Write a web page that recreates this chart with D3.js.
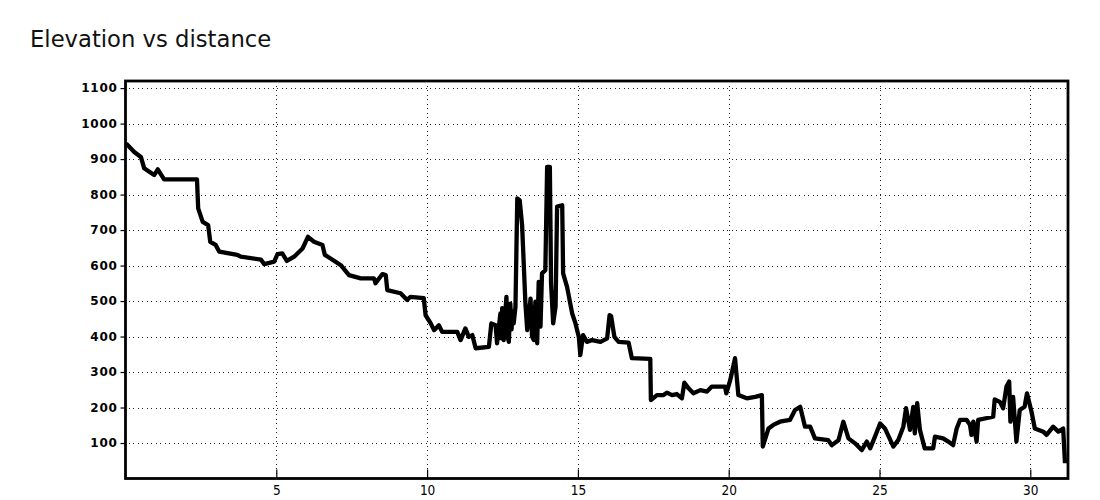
<!DOCTYPE html>
<html>
<head>
<meta charset="utf-8">
<script src="https://cdn.jsdelivr.net/npm/d3@7"></script>
<style>
  html, body { margin: 0; padding: 0; background: #fff; }
  svg { display: block; }
</style>
</head>
<body>
<svg id="chart" width="1100" height="500"></svg>
<script>
const title = "Elevation vs distance";

const distanceKm = [
  0.02, 0.29, 0.51, 0.62, 0.79, 0.95, 1.07, 1.28, 2.37, 2.41, 2.56, 2.74, 2.81, 2.99, 3.11,
  3.71, 3.82, 4.49, 4.60, 4.93, 5.04, 5.20, 5.35, 5.59, 5.87, 6.05, 6.25, 6.53, 6.61, 6.80,
  7.14, 7.41, 7.80, 8.24, 8.29, 8.52, 8.63, 8.68, 9.12, 9.34, 9.45, 9.89, 9.95, 10.12, 10.23,
  10.39, 10.50, 11.00, 11.11, 11.27, 11.38, 11.50, 11.61, 12.05, 12.13, 12.27, 12.32, 12.43,
  12.46, 12.49, 12.54, 12.57, 12.60, 12.63, 12.67, 12.71, 12.76, 12.80, 12.84, 12.87, 12.93,
  12.99, 13.07, 13.15, 13.26, 13.32, 13.43, 13.48, 13.54, 13.59, 13.65, 13.70, 13.76, 13.81,
  13.92, 13.98, 14.07, 14.11, 14.18, 14.26, 14.31, 14.48, 14.51, 14.64, 14.81, 14.92, 15.03,
  15.08, 15.17, 15.30, 15.47, 15.75, 15.97, 16.05, 16.10, 16.21, 16.35, 16.68, 16.79, 17.40,
  17.42, 17.62, 17.84, 17.95, 18.12, 18.28, 18.45, 18.53, 18.67, 18.83, 19.06, 19.28, 19.44,
  19.88, 19.92, 20.05, 20.21, 20.32, 20.60, 20.88, 21.10, 21.13, 21.32, 21.48, 21.70, 22.03,
  22.20, 22.37, 22.53, 22.70, 22.86, 23.30, 23.42, 23.64, 23.80, 23.97, 24.19, 24.41, 24.58,
  24.69, 24.85, 25.02, 25.18, 25.46, 25.62, 25.79, 25.88, 26.01, 26.12, 26.17, 26.25, 26.34,
  26.50, 26.78, 26.84, 27.11, 27.28, 27.44, 27.56, 27.67, 27.89, 28.00, 28.05, 28.11, 28.22,
  28.27, 28.77, 28.82, 28.99, 29.10, 29.21, 29.30, 29.34, 29.43, 29.54, 29.65, 29.81, 29.89,
  30.04, 30.15, 30.43, 30.54, 30.76, 30.93, 31.09, 31.15
];

const elevationM = [
  944, 920, 906, 874, 864, 855, 871, 843, 843, 761, 723, 714, 667, 658, 639,
  630, 625, 617, 604, 611, 632, 634, 613, 625, 648, 681, 667, 658, 630, 620,
  601, 573, 564, 564, 550, 576, 573, 531, 522, 503, 512, 508, 460, 437, 418,
  432, 413, 413, 390, 423, 399, 404, 367, 371, 437, 432, 381, 465,
  395, 480, 390, 470, 475, 512, 400, 385, 493, 420, 470, 437, 484,
  789, 784, 714, 493, 418, 507, 400, 390, 498, 381, 554, 428, 578,
  587, 878, 878, 550, 437, 484, 766, 770, 578, 540, 465, 437, 399,
  348, 404, 385, 390, 385, 395, 460, 458, 399, 385, 383, 339, 337,
  221, 235, 235, 242, 235, 238, 226, 270, 254, 240, 249, 245, 259,
  259, 240, 277, 339, 235, 226, 230, 235, 90, 141, 151, 160, 165,
  193, 202, 146, 146, 113, 108, 94, 108, 160, 113, 99, 80, 104,
  85, 118, 155, 141, 90, 108, 146, 198, 137, 202, 127, 212, 137,
  85, 85, 118, 113, 104, 94, 141, 165, 165, 151, 123, 160, 104,
  165, 174, 223, 216, 198, 259, 273, 160, 230, 104, 193, 202, 240,
  188, 141, 132, 123, 146, 132, 141, 43
];

const xTickValues = [5, 10, 15, 20, 25, 30];
const yTickValues = [100, 200, 300, 400, 500, 600, 700, 800, 900, 1000, 1100];
const xDomain = [0, 31.25];
const yDomain = [0, 1120];

const svg = d3.select("#chart");
const plot = { left: 125.5, right: 1068, top: 81, bottom: 478.5 };

const x = d3.scaleLinear().domain(xDomain).range([plot.left, plot.right]);
const y = d3.scaleLinear().domain(yDomain).range([plot.bottom, plot.top]);

svg.append("text")
  .attr("x", 30).attr("y", 47)
  .attr("font-family", "DejaVu Sans, sans-serif")
  .attr("font-size", 22.7)
  .attr("fill", "#111")
  .text(title);

// grid
const grid = svg.append("g").attr("stroke", "#222").attr("stroke-width", 1)
  .attr("stroke-dasharray", "1,3.5").attr("shape-rendering", "crispEdges");
grid.selectAll("line.h").data(yTickValues).join("line")
  .attr("class", "h")
  .attr("x1", plot.left + 3).attr("x2", plot.right)
  .attr("y1", d => Math.round(y(d)) + 0.5).attr("y2", d => Math.round(y(d)) + 0.5);
grid.selectAll("line.v").data(xTickValues).join("line")
  .attr("class", "v")
  .attr("y1", plot.top).attr("y2", plot.bottom)
  .attr("x1", d => Math.round(x(d)) + 0.5).attr("x2", d => Math.round(x(d)) + 0.5);

// axes
const yAxis = d3.axisLeft(y).tickValues(yTickValues).tickSize(5).tickPadding(3).tickFormat(d3.format("d"));
const yG = svg.append("g").attr("transform", `translate(${plot.left},0)`).call(yAxis);
yG.select(".domain").remove();
yG.selectAll("line").attr("stroke", "#000").attr("stroke-width", 1.2);
yG.selectAll("text")
  .attr("font-family", "DejaVu Sans, sans-serif")
  .attr("font-size", 12)
  .attr("font-weight", "bold")
  .attr("letter-spacing", "0.7px")
  .attr("fill", "#000");

const xAxis = d3.axisBottom(x).tickValues(xTickValues).tickSize(0).tickPadding(7).tickFormat(d3.format("d"));
const xG = svg.append("g").attr("transform", `translate(0,${plot.bottom})`).call(xAxis);
xG.select(".domain").remove();
xG.selectAll("text")
  .attr("font-family", "DejaVu Sans Condensed, Liberation Sans Narrow, DejaVu Sans, sans-serif")
  .attr("font-size", 13.5)
  .attr("fill", "#000");
xG.selectAll(".tick").append("line")
  .attr("y1", 0).attr("y2", -9)
  .attr("stroke", "#000").attr("stroke-width", 1.2);

// line
const line = d3.line()
  .x((d, i) => x(distanceKm[i]))
  .y(d => y(d));
svg.append("path")
  .datum(elevationM)
  .attr("fill", "none")
  .attr("stroke", "#000")
  .attr("stroke-width", 4.3)
  .attr("stroke-linejoin", "round")
  .attr("d", line);

// frame
svg.append("rect")
  .attr("x", plot.left).attr("y", plot.top)
  .attr("width", plot.right - plot.left).attr("height", plot.bottom - plot.top)
  .attr("fill", "none").attr("stroke", "#000").attr("stroke-width", 2.8);
</script>
</body>
</html>
